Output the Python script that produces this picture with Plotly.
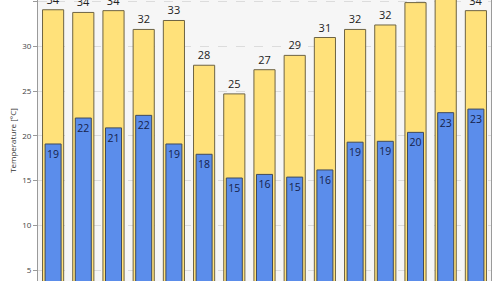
import plotly.graph_objects as go

categories = [f"D{i+1}" for i in range(15)]
max_temp = [34.1, 33.8, 34.0, 31.9, 32.9, 27.9, 24.7, 27.4, 29.0, 31.0, 31.9, 32.4, 34.9, 35.6, 34.0]
min_temp = [19.1, 22.0, 20.9, 22.3, 19.1, 17.95, 15.3, 15.7, 15.4, 16.2, 19.3, 19.4, 20.4, 22.6, 23.0]
max_labels = [f"{round(v)}" for v in max_temp]
min_labels = [f"{round(v)}" for v in min_temp]

fig = go.Figure()
fig.add_trace(go.Bar(
    x=categories, y=max_temp, width=0.7,
    marker=dict(color="#FFE17A", line=dict(color="#6e6444", width=1)),
    text=max_labels, textposition="outside", cliponaxis=False,
    textfont=dict(family="Open Sans", size=11, color="#222222"),
    constraintext="none", hoverinfo="skip",
))
fig.add_trace(go.Bar(
    x=categories, y=min_temp, width=0.53,
    marker=dict(color="#5B8DEB", line=dict(color="#3f4a5c", width=1)),
    text=min_labels, textposition="inside", insidetextanchor="end",
    textfont=dict(family="Open Sans", size=10.5, color="#16224a"),
    constraintext="none", hoverinfo="skip",
))

fig.update_layout(
    width=500, height=281,
    barmode="overlay",
    showlegend=False,
    margin=dict(l=38, r=9, t=0, b=0),
    paper_bgcolor="white",
    plot_bgcolor="#f6f6f6",
)
fig.update_xaxes(showticklabels=False, showgrid=False, zeroline=False,
                 ticks="", range=[-0.5, 14.5])
fig.update_yaxes(
    range=[3.79, 35.19],
    tickvals=[5, 10, 15, 20, 25, 30, 35],
    showgrid=True, gridcolor="#dcdcdc", griddash="dash", gridwidth=1,
    zeroline=False,
    showline=True, linecolor="#9a9a9a", linewidth=1, mirror=True,
    ticks="outside", ticklen=4, tickcolor="#9a9a9a",
    tickfont=dict(family="Open Sans", size=8, color="#444444"),
    title=dict(text="Temperature [°C]", font=dict(family="Open Sans", size=8, color="#333333"), standoff=4),
)

fig.write_html("out.html")
